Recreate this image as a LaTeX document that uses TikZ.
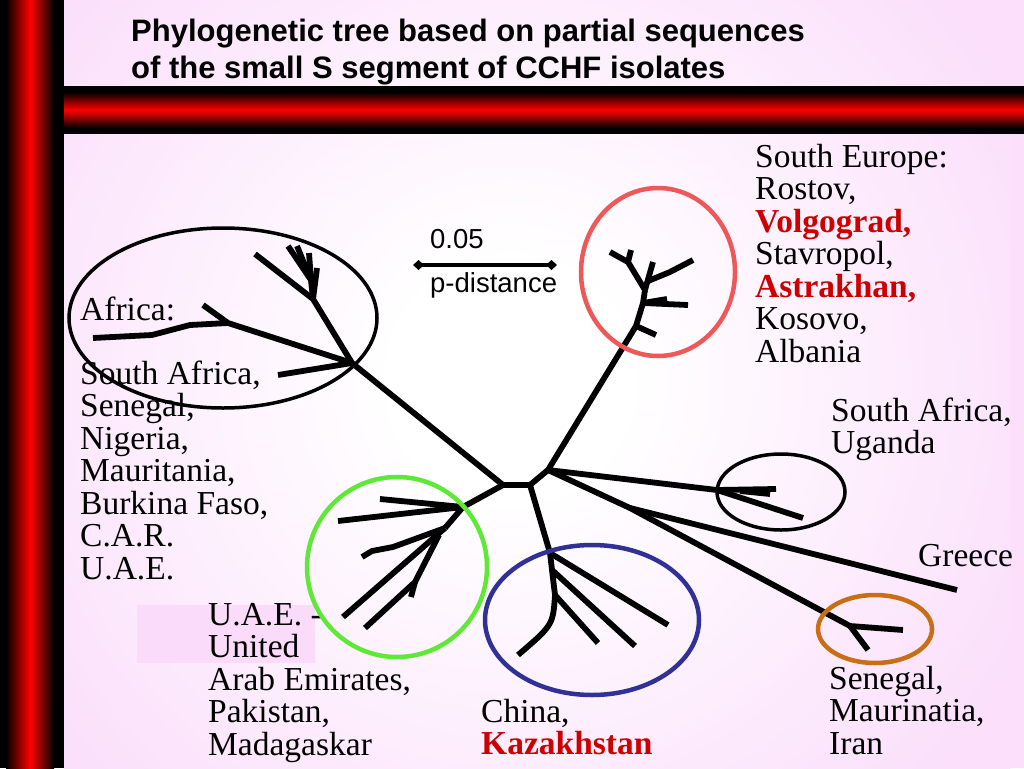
\documentclass[tikz,border=0pt]{standalone}
\usepackage{fontspec}
\setmainfont{Liberation Serif}
\newfontfamily\titlefont{Liberation Sans}
\usetikzlibrary{arrows.meta}
\definecolor{pinkbg}{RGB}{251,223,251}
\definecolor{pinkbox}{RGB}{250,219,250}
\definecolor{labred}{RGB}{204,0,0}
\definecolor{circred}{RGB}{238,88,88}
\definecolor{circgreen}{RGB}{96,232,56}
\definecolor{circblue}{RGB}{48,48,150}
\definecolor{circorange}{RGB}{200,110,20}
\definecolor{barred}{RGB}{255,0,0}
\pgfdeclareradialshading{bgshade}{\pgfpoint{0bp}{0bp}}{color(0bp)=(white); color(6bp)=(white); color(29bp)=(pinkbg); color(100bp)=(pinkbg)}
\begin{document}
\begin{tikzpicture}[x=1pt,y=-1pt,
  tree/.style={line width=5.8pt, line join=round},
  lbl/.style={anchor=base west, inner sep=0pt, align=left, font=\fontsize{33.5}{32.5}\selectfont},
  ring/.style={line width=4.5pt},
  bring/.style={line width=3.5pt}]
\useasboundingbox (0,0) rectangle (1024,768);
% background
\fill[pinkbg] (64,0) rectangle (1024,768);
\begin{scope}
\clip (64,0) rectangle (1024,768);
\shade[shading=bgshade] (10,-120) rectangle (1010,880);
\end{scope}
\fill[pinkbox] (137,605) rectangle (315,663);
% bars
\fill[black] (0,0) rectangle (64,768);
\shade[left color=black, right color=black, middle color=barred] (6,0) rectangle (54,768);
\fill[black] (64,86) rectangle (1024,134);
\shade[top color=black, bottom color=black, middle color=barred] (64,92) rectangle (1024,128);
% title (base anchor = baseline of the last line)
\node[anchor=base west, inner sep=0pt, align=left, font=\titlefont\bfseries\fontsize{31}{37}\selectfont] (title) at (131,78) {Phylogenetic tree based on partial sequences\\of the small S segment of CCHF isolates};
% labels (base anchor = baseline of the last line)
\node[lbl] (lafr) at (80,320) {Africa:};
\node[lbl] (lafrlist) at (80,579) {South Africa,\\Senegal,\\Nigeria,\\Mauritania,\\Burkina Faso,\\C.A.R.\\U.A.E.};
\node[lbl] (leur) at (755,362) {South Europe:\\Rostov,\\\textbf{\color{labred}Volgograd,}\\Stavropol,\\\textbf{\color{labred}Astrakhan,}\\Kosovo,\\Albania};
\node[lbl] (luga) at (831,453.5) {South Africa,\\Uganda};
\node[lbl] (lgre) at (918,566) {Greece};
\node[lbl] (lsen) at (829,754) {Senegal,\\Maurinatia,\\Iran};
\node[lbl] (lchi) at (481,754.5) {China,\\\textbf{\color{labred}Kazakhstan}};
\node[lbl] (luae) at (208,755) {U.A.E. -\\United\\Arab Emirates,\\Pakistan,\\Madagaskar};
% scale bar
\coordinate (sbL) at (413,265);
\coordinate (sbR) at (557,265);
\draw[line width=4pt, {Diamond[length=11pt,width=10pt]}-{Diamond[length=11pt,width=10pt]}] (sbL) -- (sbR);
\node[anchor=base west, inner sep=0pt, font=\titlefont\fontsize{27.5}{30}\selectfont] (sbnum) at (430,248) {0.05};
\node[anchor=base west, inner sep=0pt, font=\titlefont\fontsize{27.5}{30}\selectfont] (sblab) at (430,292) {p-distance};
% tree: center
\coordinate (A) at (503,485);
\coordinate (B) at (530,485);
\coordinate (C) at (548,470);
\draw[tree] (A) -- (B) -- (C);
% red cluster
\coordinate (R1) at (636,326);
\coordinate (R2) at (643,303);
\coordinate (R3) at (645,290);
\coordinate (R4) at (628,262);
\draw[tree] (C) -- (R1) -- (R2) -- (R3);
\draw[tree] (R1) -- (656,335);
\draw[tree] (R2) -- (667,299);
\draw[tree] (R2) -- (688,305);
\draw[tree] (R3) -- (R4) -- (610,252);
\draw[tree] (R4) -- (631,250);
\draw[tree] (R3) -- (653,262);
\draw[tree] (648,281) -- (670,272) -- (693,260);
% Uganda cluster
\coordinate (U1) at (717,490);
\draw[tree] (C) -- (U1) -- (776,489);
\draw[tree] (U1) -- (803,518);
\draw[tree] (740,491) -- (770,494);
% Greece / Senegal
\coordinate (J2) at (630,508);
\coordinate (S1) at (850,626);
\draw[tree] (C) -- (J2) -- (957,590);
\draw[tree] (J2) -- (S1) -- (903,630);
\draw[tree] (S1) -- (868,650);
% blue cluster
\coordinate (Bl1) at (550,553);
\coordinate (Bl2) at (552,570);
\coordinate (Bl3) at (555,595);
\draw[tree] (B) -- (Bl1) -- (Bl2) -- (Bl3);
\draw[tree] (Bl1) -- (668,625);
\draw[tree] (Bl2) -- (635,646);
\draw[tree] (Bl3) -- (598,643);
\draw[tree] (Bl3) .. controls (553,625) .. (518,655);
% green cluster
\coordinate (G1) at (463,507);
\coordinate (G2) at (445,528);
\coordinate (G3) at (415,582);
\draw[tree] (A) -- (G1) -- (380,499);
\draw[tree] (G1) -- (338,521);
\draw[tree] (G1) -- (G2);
\draw[tree] (G2) -- (393,547) -- (372,551) -- (362,557);
\draw[tree] (G2) -- (343,617);
\draw[tree] (439,535) -- (G3) -- (365,628);
\draw[tree] (G3) -- (411,597);
% Africa cluster
\coordinate (F1) at (352,363);
\coordinate (F2) at (313,299);
\coordinate (F3) at (311,280);
\coordinate (F4) at (228,323);
\draw[tree] (A) -- (F1) -- (278,375);
\draw[tree] (F1) -- (F2) -- (255,254);
\draw[tree] (F2) -- (F3);
\draw[tree] (F3) -- (288,246);
\draw[tree] (F3) -- (297,246);
\draw[tree] (F3) -- (309,253);
\draw[tree] (F2) -- (317,268);
\draw[tree] (F1) -- (F4) -- (203,305);
\draw[tree] (F4) -- (190,325) -- (152,335) -- (93,338);
% rings
\draw[bring] (223,318) ellipse [x radius=154, y radius=90];
\draw[ring, circred] (658,272) ellipse [x radius=77, y radius=84];
\draw[bring] (781,492) ellipse [x radius=64, y radius=38];
\draw[ring, circgreen] (397,567) ellipse [x radius=90, y radius=90];
\draw[ring, circblue] (592,620) ellipse [x radius=107, y radius=75];
\draw[ring, circorange] (875,629) ellipse [x radius=57, y radius=34];
\end{tikzpicture}
\end{document}
